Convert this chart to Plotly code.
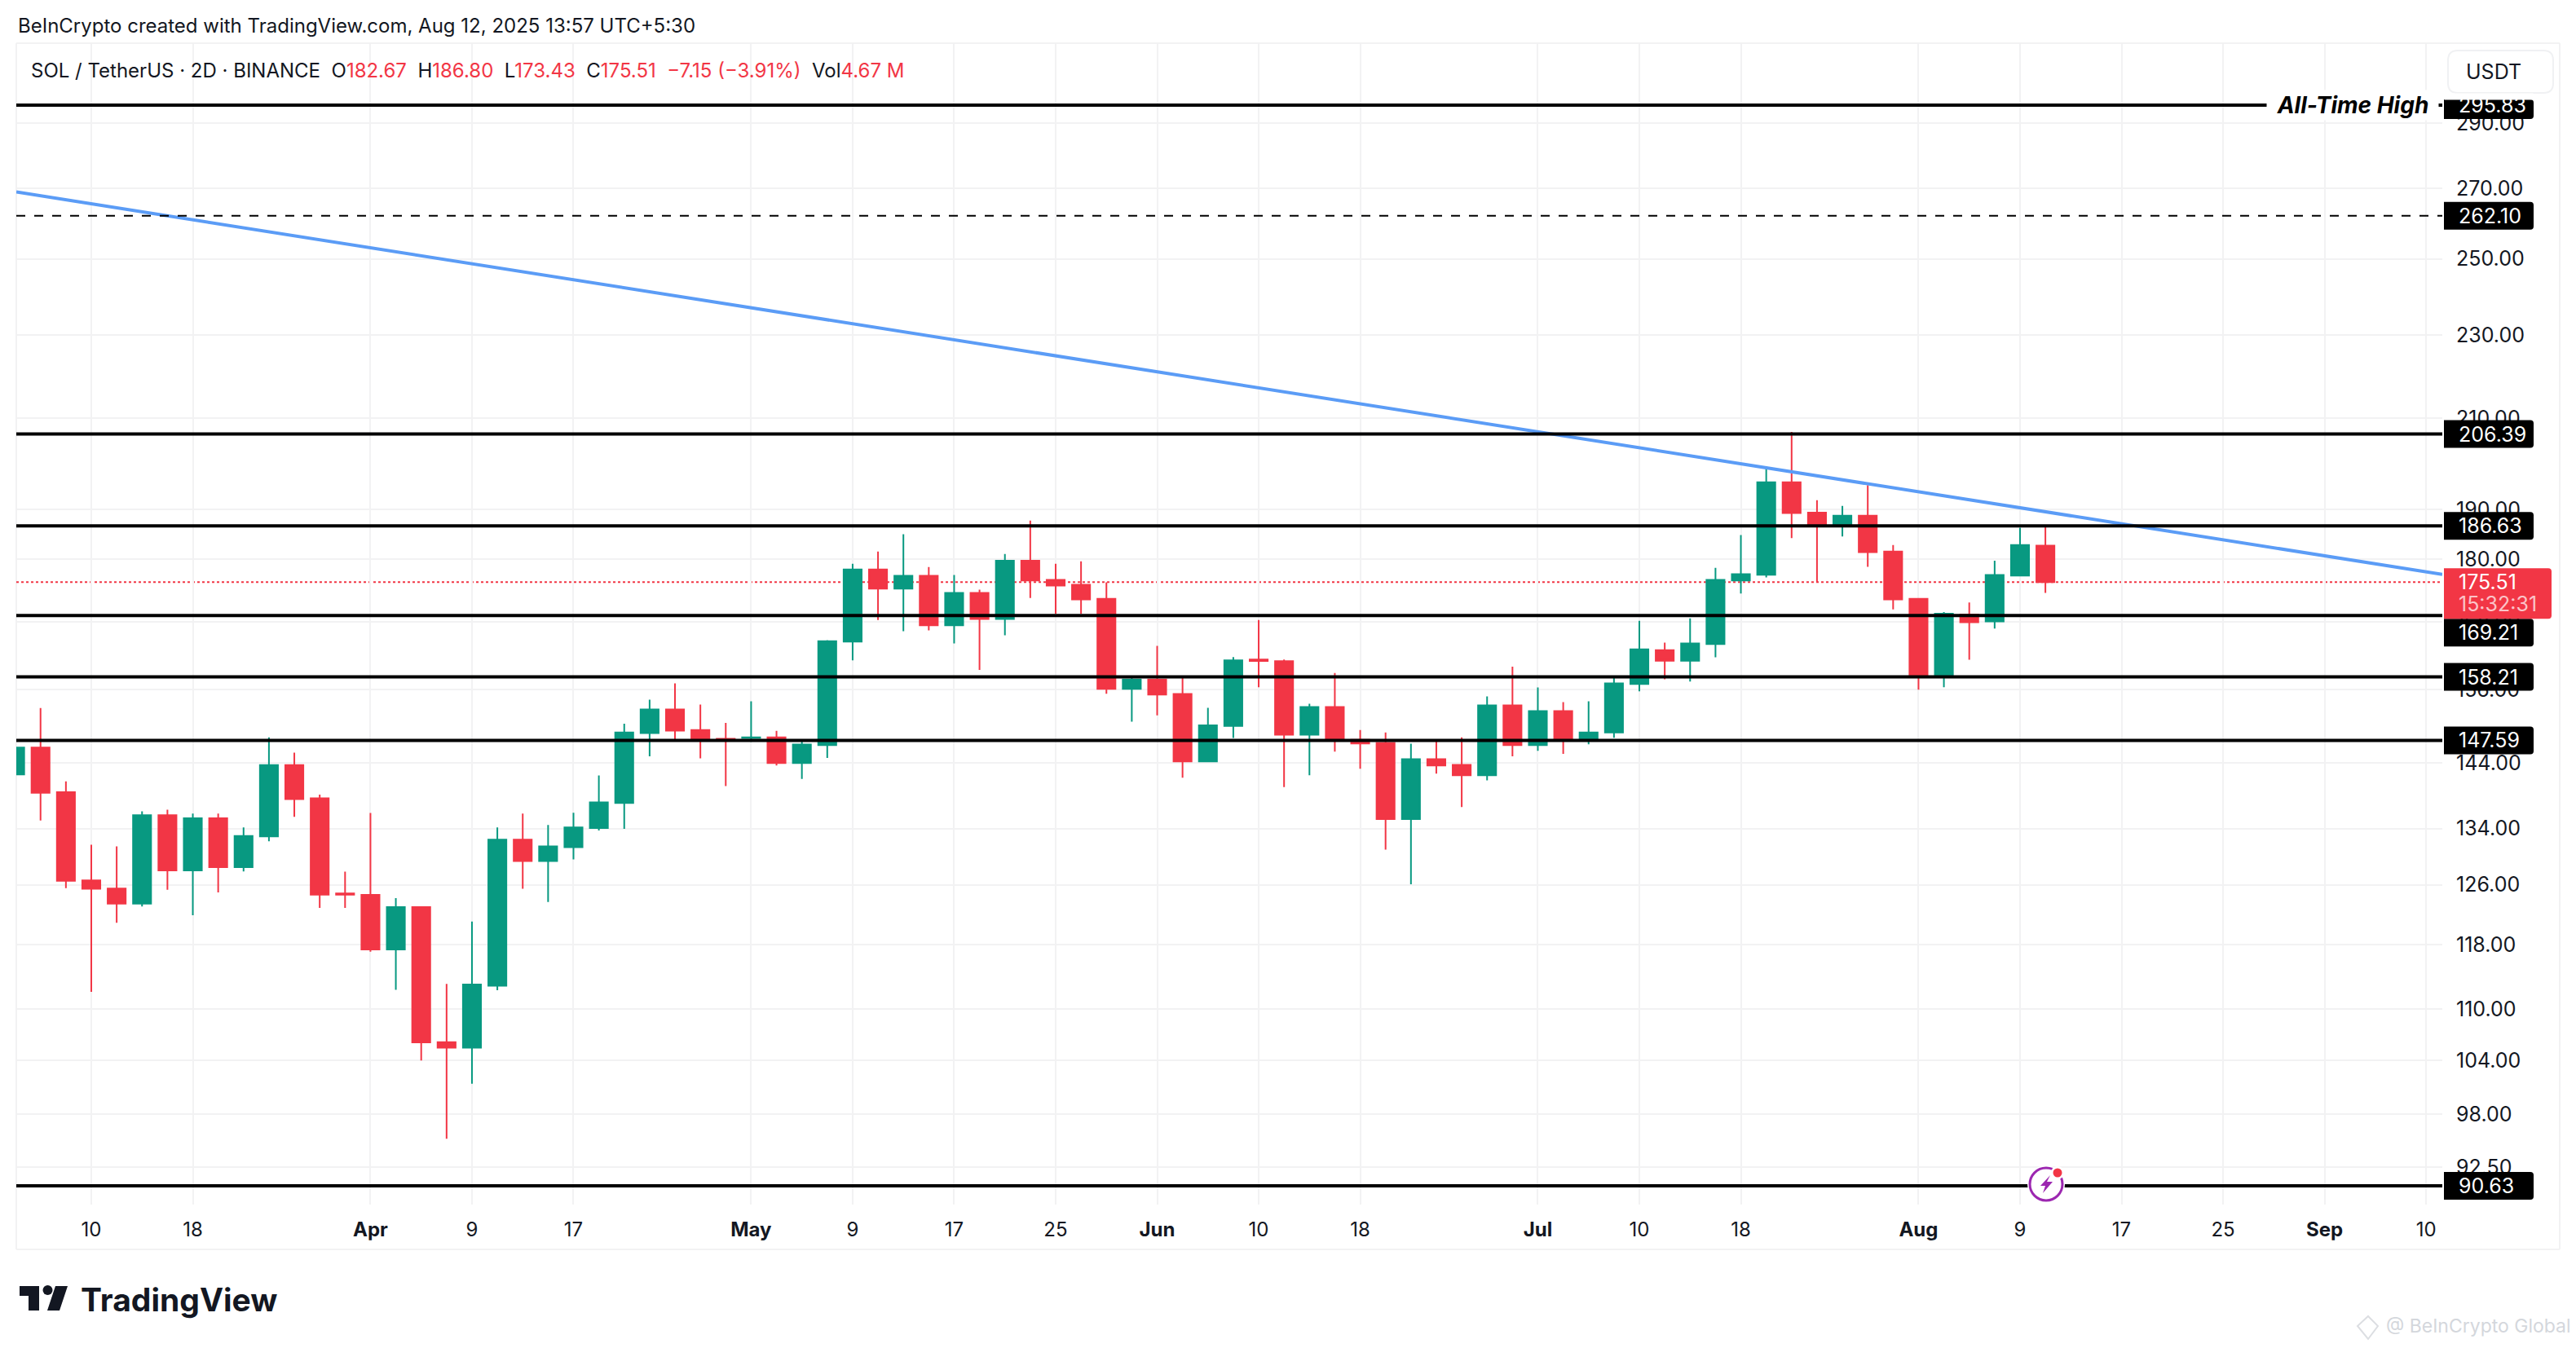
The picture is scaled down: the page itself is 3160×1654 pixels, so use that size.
import math
import plotly.graph_objects as go

# --- data ---------------------------------------------------------------------
bars = list(range(81))
opens = [142.18, 146.43, 139.46, 126.61, 125.49, 123.42, 135.98, 128.0, 135.51, 128.45,
         132.87, 143.66, 138.51, 124.83, 124.62, 117.39, 122.97, 106.06, 105.43, 112.81,
         132.38, 129.33, 131.31, 134.08, 137.81, 148.77, 152.66, 149.25, 147.83, 147.96,
         148.08, 143.98, 146.83, 164.43, 177.95, 174.25, 176.70, 167.38, 173.42, 168.56,
         179.67, 175.92, 174.98, 172.33, 156.15, 157.76, 155.28, 144.24, 149.94, 161.23,
         160.94, 148.51, 153.07, 147.66, 147.18, 135.40, 144.59, 143.68, 142.04, 153.34,
         146.83, 152.38, 147.57, 148.86, 156.97, 162.91, 161.04, 163.99, 175.81, 176.91,
         195.79, 189.39, 186.63, 188.73, 181.47, 172.33, 158.31, 169.40, 168.11, 176.75, 182.67]
highs = [146.43, 152.90, 141.10, 131.65, 131.42, 136.57, 136.81, 136.22, 136.22, 134.18,
         148.08, 145.60, 139.07, 127.84, 136.32, 124.17, 122.97, 113.06, 121.04, 134.18,
         136.22, 134.53, 136.33, 142.02, 150.30, 154.31, 157.07, 153.48, 150.44, 154.03,
         149.12, 147.44, 164.68, 179.05, 181.47, 184.94, 178.42, 176.86, 174.05, 180.97,
         187.74, 179.05, 179.52, 175.45, 158.08, 163.65, 158.18, 152.93, 161.67, 168.36,
         161.23, 153.62, 158.87, 149.25, 148.86, 147.05, 147.66, 148.08, 154.86, 159.97,
         156.38, 153.90, 154.03, 158.18, 168.22, 164.24, 168.66, 178.27, 184.77, 199.27,
         206.86, 191.97, 190.75, 195.15, 182.79, 172.33, 169.84, 171.63, 179.67, 186.25, 186.80]
lows = [142.18, 135.18, 125.54, 112.08, 120.87, 123.06, 125.32, 121.88, 124.96, 127.87,
        132.16, 135.75, 122.85, 122.85, 117.11, 112.32, 103.95, 95.42, 101.34, 112.28,
        125.45, 123.65, 129.54, 133.72, 133.96, 145.02, 147.70, 144.72, 140.37, 147.35,
        143.59, 141.49, 144.76, 161.08, 168.36, 166.30, 166.45, 164.09, 159.42, 165.57,
        172.48, 169.54, 169.54, 155.32, 150.62, 151.67, 141.68, 144.24, 147.96, 156.42,
        140.23, 142.04, 145.79, 143.08, 130.95, 126.09, 142.30, 137.21, 141.26, 145.02,
        145.92, 145.41, 146.96, 147.99, 155.73, 157.80, 157.39, 161.63, 173.31, 176.39,
        184.16, 175.50, 184.49, 178.47, 170.34, 156.01, 156.42, 161.19, 166.79, 176.75, 173.43]
closes = [146.43, 139.36, 126.55, 125.45, 123.42, 135.98, 128.0, 135.51, 128.45, 132.91,
          143.66, 138.41, 124.66, 124.66, 117.39, 122.97, 106.03, 105.43, 112.97, 132.38,
          129.33, 131.42, 134.16, 137.89, 148.86, 152.66, 149.16, 147.61, 147.61, 148.08,
          143.98, 146.92, 164.52, 177.95, 174.25, 176.70, 167.38, 173.42, 168.56, 179.67,
          175.81, 174.83, 172.22, 156.15, 157.76, 155.18, 144.24, 150.03, 161.08, 160.98,
          148.51, 153.07, 147.66, 147.09, 135.40, 144.59, 143.59, 142.04, 153.34, 146.83,
          152.38, 147.66, 148.86, 157.07, 163.06, 161.04, 164.09, 175.92, 177.02, 195.79,
          189.27, 186.63, 188.73, 181.35, 172.22, 158.22, 169.54, 167.97, 176.86, 182.79, 175.51]

x_tick_bars = [3, 7, 14, 18, 22, 29, 33, 37, 41, 45, 49, 53, 60, 64, 68, 75, 79, 83, 87, 91, 95]
x_tick_text = ["10", "18", "<b>Apr</b>", "9", "17", "<b>May</b>", "9", "17", "25", "<b>Jun</b>", "10", "18",
               "<b>Jul</b>", "10", "18", "<b>Aug</b>", "9", "17", "25", "<b>Sep</b>", "10"]
y_ticks = [290, 270, 250, 230, 210, 190, 180, 168, 156, 144, 134, 126, 118, 110, 104, 98, 92.5]

solid_levels = [295.83, 206.39, 186.63, 169.21, 158.21, 147.59, 90.63]
dashed_level = 262.10
last_close = 175.51
trend_bars = [0.045, 95.64]
trend_prices = [269.0, 177.0]
x_range = [0.045, 95.64]
y_range = [88.79, 316.58]

# --- colours and frame --------------------------------------------------------
GREEN = "#089981"
RED = "#f23645"
BLUE = "#5b9cf6"
INK = "#131722"
GRID = "#f2f2f3"
FONT = "Inter"
W, H = 3160, 1654
L, R, T, B = 20, 2996, 53, 1478


def px(x):
    return (x - L) / (R - L)


def py(y):
    return (B - y) / (B - T)


def paper_line(x0, y0, x1, y1, color=GRID, width=2):
    return dict(type="line", xref="paper", yref="paper", x0=px(x0), y0=py(y0), x1=px(x1), y1=py(y1),
                line=dict(color=color, width=width), layer="below")


def paper_path(points, fill, line_color=None, line_width=0):
    d = "M" + " L".join(f"{px(a):.6f},{py(b):.6f}" for a, b in points) + " Z"
    return dict(type="path", xref="paper", yref="paper", path=d, fillcolor=fill,
                line=dict(color=line_color or fill, width=line_width), layer="above")


def paper_circle(cx, cy, r, fill="rgba(0,0,0,0)", line_color=None, line_width=0):
    return dict(type="circle", xref="paper", yref="paper", x0=px(cx - r), x1=px(cx + r), y0=py(cy + r), y1=py(cy - r),
                fillcolor=fill, line=dict(color=line_color or fill, width=line_width), layer="above")


def badge_shape(level, color, width=110, up=17, down=17, shift=0):
    # pixel sized box hanging on the price level, rounded on the right
    top, bot = up - shift, -down - shift
    d = (f"M0,{top} L{width - 4},{top} Q{width},{top} {width},{top - 4} L{width},{bot + 4} "
         f"Q{width},{bot} {width - 4},{bot} L0,{bot} Z")
    return dict(type="path", xref="paper", yref="y", xsizemode="pixel", ysizemode="pixel",
                xanchor=px(2998), yanchor=level, path=d, fillcolor=color, line=dict(width=0), layer="above")


def badge_text(level, text, color="white", shift=0, x=3014):
    return dict(xref="paper", yref="y", x=px(x), y=math.log10(level), yshift=-shift, text=text, showarrow=False,
                xanchor="left", yanchor="middle", font=dict(family=FONT, size=25, color=color))


fig = go.Figure()
fig.add_trace(go.Candlestick(
    x=bars, open=opens, high=highs, low=lows, close=closes,
    increasing=dict(line=dict(color=GREEN, width=2), fillcolor=GREEN),
    decreasing=dict(line=dict(color=RED, width=2), fillcolor=RED),
    hoverinfo="skip", showlegend=False,
))
fig.add_trace(go.Scatter(x=trend_bars, y=trend_prices, mode="lines", line=dict(color=BLUE, width=4),
                         hoverinfo="skip", showlegend=False))
fig.add_trace(go.Scatter(x=x_range, y=[dashed_level, dashed_level], mode="lines",
                         line=dict(color="black", width=2, dash="11px,11px"), hoverinfo="skip", showlegend=False))
for level in solid_levels:
    fig.add_trace(go.Scatter(x=x_range, y=[level, level], mode="lines", line=dict(color="black", width=4),
                             hoverinfo="skip", showlegend=False))

shapes = [
    paper_line(L, T, 3140, T), paper_line(L, 1533, 3140, 1533),
    paper_line(L, T, L, 1533), paper_line(3140, T, 3140, 1533),
    dict(type="line", xref="paper", yref="y", x0=0, x1=1, y0=last_close, y1=last_close, layer="below",
         line=dict(color=RED, width=2, dash="dot")),
]

# price badges
shapes.append(badge_shape(solid_levels[0], "black", up=7))
for level in [262.10, 206.39, 186.63, 158.21, 147.59, 90.63]:
    shapes.append(badge_shape(level, "black"))
shapes.append(badge_shape(169.21, "black", shift=21))
shapes.append(badge_shape(last_close, RED, width=132, up=17, down=45))

# currency button
shapes.append(dict(type="path", xref="paper", yref="paper", layer="above", fillcolor="white",
                   line=dict(color="#f0f1f3", width=2),
                   path=(f"M{px(3015)},{py(62)} L{px(3120)},{py(62)} Q{px(3132)},{py(62)} {px(3132)},{py(74)} "
                         f"L{px(3132)},{py(102)} Q{px(3132)},{py(114)} {px(3120)},{py(114)} L{px(3015)},{py(114)} "
                         f"Q{px(3003)},{py(114)} {px(3003)},{py(102)} L{px(3003)},{py(74)} Q{px(3003)},{py(62)} {px(3015)},{py(62)} Z")))

# lightning marker on the lowest line
shapes.append(paper_circle(2510, 1453, 23, fill="white"))
shapes.append(paper_circle(2510, 1453, 20, line_color="#9c27b0", line_width=3))
shapes.append(paper_circle(2524, 1439, 8, fill="white"))
shapes.append(paper_circle(2524, 1439, 5.5, fill=RED))
shapes.append(paper_path([(2515, 1442), (2503, 1455), (2509, 1455), (2506, 1464), (2518, 1450), (2511, 1450)], "#9c27b0"))

# tradingview logo
shapes.append(paper_path([(24, 1578), (48, 1578), (48, 1608), (35, 1608), (35, 1590), (24, 1590)], "#131722"))
shapes.append(paper_circle(58.5, 1583, 6, fill="#131722"))
shapes.append(paper_path([(68, 1578), (83, 1578), (73, 1608), (58, 1608)], "#131722"))

# watermark diamond
shapes.append(paper_path([(2905, 1615), (2917, 1627), (2905, 1643), (2892, 1627)], "white", "#dcdee2", 2))

red = f'color:{RED}'
legend_text = (f'SOL / TetherUS · 2D · BINANCE  O<span style="{red}">182.67</span>  H<span style="{red}">186.80</span>'
               f'  L<span style="{red}">173.43</span>  C<span style="{red}">175.51</span>'
               f'  <span style="{red}">−7.15 (−3.91%)</span>  Vol<span style="{red}">4.67 M</span>')

annotations = [
    dict(xref="paper", yref="paper", x=px(20), y=py(32), xanchor="left", yanchor="middle", showarrow=False,
         text="BeInCrypto created with TradingView.com, Aug 12, 2025 13:57 UTC+5:30",
         font=dict(family=FONT, size=24, color=INK)),
    dict(xref="paper", yref="paper", x=px(36), y=py(86), xanchor="left", yanchor="middle", showarrow=False,
         text=legend_text, font=dict(family=FONT, size=24, color=INK)),
    dict(xref="paper", yref="y", x=px(2886), y=math.log10(solid_levels[0]), width=208, height=34, bgcolor="white",
         xanchor="center", yanchor="middle", showarrow=False, text="<b><i>All-Time High</i></b>",
         font=dict(family=FONT, size=28, color="black")),
    dict(xref="paper", yref="paper", x=px(3023), y=py(88), xanchor="left", yanchor="middle", showarrow=False,
         text="USDT", font=dict(family=FONT, size=25, color=INK)),
    dict(xref="paper", yref="paper", x=px(97), y=py(1594), xanchor="left", yanchor="middle", showarrow=False,
         text="<b>TradingView</b>", font=dict(family=FONT, size=39, color=INK)),
    dict(xref="paper", yref="paper", x=px(2925), y=py(1627), xanchor="left", yanchor="middle", showarrow=False,
         text="@ BeInCrypto Global", font=dict(family=FONT, size=23, color="#d4d7dc")),
    badge_text(last_close, "175.51"),
    badge_text(last_close, "15:32:31", color="#fbc3c8", shift=27),
    badge_text(169.21, "169.21", shift=21),
]
for level in [295.83, 262.10, 206.39, 186.63, 158.21, 147.59, 90.63]:
    annotations.append(badge_text(level, f"{level:.2f}"))

# white strip that trims the top of the 295.83 label under the currency button
annotations.append(dict(xref="paper", yref="paper", x=px(3053), y=py(118.5), width=108, height=7, borderpad=0,
                        bgcolor="white", xanchor="center", yanchor="middle", showarrow=False, text=" ",
                        font=dict(size=1)))

fig.update_layout(
    width=W, height=H,
    margin=dict(l=L, r=W - R, t=T, b=H - B, pad=0),
    plot_bgcolor="white", paper_bgcolor="white",
    showlegend=False, boxgap=0.29, boxgroupgap=0,
    font=dict(family=FONT, size=25, color=INK),
    shapes=shapes, annotations=annotations,
    xaxis=dict(range=x_range, rangeslider=dict(visible=False), tickmode="array", tickvals=x_tick_bars,
               ticktext=x_tick_text, showgrid=True, gridcolor=GRID, gridwidth=2, zeroline=False, showline=False,
               ticks="", ticklabelstandoff=14, tickfont=dict(family=FONT, size=24, color=INK)),
    yaxis=dict(type="log", side="right", range=[math.log10(v) for v in y_range], tickmode="array", tickvals=y_ticks,
               ticktext=[f"{v:.2f}" for v in y_ticks], showgrid=True, gridcolor=GRID, gridwidth=2, zeroline=False,
               showline=False, ticks="", ticklabelstandoff=16, tickfont=dict(family=FONT, size=25, color=INK)),
)

fig.write_html("out.html", config={"displayModeBar": False}, post_script="document.body.style.margin='0';")
